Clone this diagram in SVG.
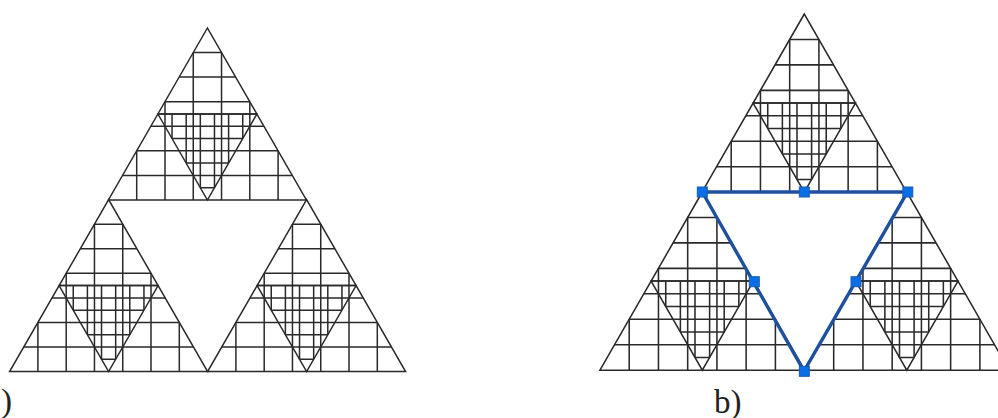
<svg xmlns="http://www.w3.org/2000/svg" xmlns:xlink="http://www.w3.org/1999/xlink" width="998" height="418" viewBox="0 0 998 418">
<style>
.m{fill:none;stroke:#2a2a2a;stroke-width:1.5}
.e{fill:none;stroke:#1f4f9f;stroke-width:3.4}
.n{fill:#0a6fe6;stroke:#1a5cb0;stroke-width:1}
.t{font-family:"Liberation Serif",serif;font-size:33px;fill:#222}
</style>
<defs>
<g id="cell">
<path class="m" d="M0 0L-99 172H99ZM-49.5 86L0 172L49.5 86Z"/>
<path class="m" d="M-14.14 24.6H14.14M-28.3 49.1H28.3M-42.4 73.7H42.4M-49.5 86H49.5M-56.6 98.3H56.6M-35.3 110.6H35.3M-70.7 122.8H70.7M-21.2 135.1H21.2M-84.8 147.4H84.8M-7.1 159.7H7.1"/>
<path class="m" d="M-14.14 24.6V172M14.14 24.6V172M-42.4 73.7V172M42.4 73.7V172M-70.7 122.8V172M70.7 122.8V172M-7.07 86V159.7M7.07 86V159.7M-21.2 86V135.1M21.2 86V135.1M-35.35 86V110.6M35.35 86V110.6"/>
</g>
</defs>
<g id="figure-a">
<use xlink:href="#cell" href="#cell" transform="translate(207.4,28)"/>
<use xlink:href="#cell" href="#cell" transform="translate(108.6,199.6)"/>
<use xlink:href="#cell" href="#cell" transform="translate(306.6,199.6)"/>
</g>
<g id="figure-b">
<use xlink:href="#cell" href="#cell" transform="translate(804.3,14) scale(1.034,1.036)"/>
<use xlink:href="#cell" href="#cell" transform="translate(702.3,192) scale(1.034,1.036)"/>
<use xlink:href="#cell" href="#cell" transform="translate(906.8,192) scale(1.034,1.036)"/>
</g>
<g id="connectors">
<path class="e" d="M702.3 192H907.5L804 371Z"/>
</g>
<g id="n1"><rect class="n" x="697.3" y="187" width="10" height="10"/></g>
<g id="n2"><rect class="n" x="799.3" y="187" width="10" height="10"/></g>
<g id="n3"><rect class="n" x="902.8" y="187" width="10" height="10"/></g>
<g id="n4"><rect class="n" x="749.3" y="276.7" width="10" height="10"/></g>
<g id="n5"><rect class="n" x="851" y="276.7" width="10" height="10"/></g>
<g id="n6"><rect class="n" x="799.3" y="366.3" width="10" height="10"/></g>
<text class="t" x="1" y="412">)</text>
<text class="t" x="714" y="412.5">b)</text>
</svg>
